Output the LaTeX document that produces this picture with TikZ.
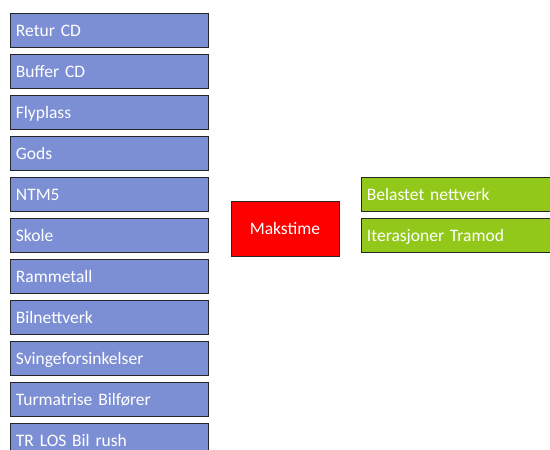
\documentclass[tikz,border=0pt]{standalone}
\usepackage{fontspec}
\setmainfont[WordSpace=0.8]{Carlito}
\definecolor{inputblue}{RGB}{125,143,212}
\definecolor{outgreen}{RGB}{146,200,26}
\definecolor{hourred}{RGB}{255,0,0}
\begin{document}
\begin{tikzpicture}[x=1pt,y=-1pt,
  box/.style={draw=black!85,line width=0.9pt,text=white,font=\fontsize{17.5}{19}\selectfont,
    anchor=north west,inner sep=0pt,text depth=0pt},
  inbox/.style={box,fill=inputblue,minimum width=198pt,minimum height=34.5pt,
    text width=186pt,align=left},
  outbox/.style={box,fill=outgreen,minimum width=210pt,minimum height=34.5pt,
    text width=198pt,align=left},
  hourbox/.style={box,fill=hourred,minimum width=108pt,minimum height=55pt,align=center}]
\useasboundingbox (0,0) rectangle (550,450);
\clip (0,0) rectangle (550,450);
% input boxes
\foreach \lbl [count=\i] in {Retur CD,Buffer CD,Flyplass,Gods,NTM5,Skole,Rammetall,Bilnettverk,Svingeforsinkelser,Turmatrise Bilfører,TR LOS Bil rush}{
  \node[inbox] (in\i) at (9.5,{12.8+41*(\i-1)}) {\lbl};
}
% central box
\node[hourbox] (mak) at (230.5,200.5) {Makstime};
% output boxes
\node[outbox] (out1) at (360.5,176.8) {Belastet nettverk};
\node[outbox] (out2) at (360.5,217.5) {Iterasjoner Tramod};
\end{tikzpicture}
\end{document}
